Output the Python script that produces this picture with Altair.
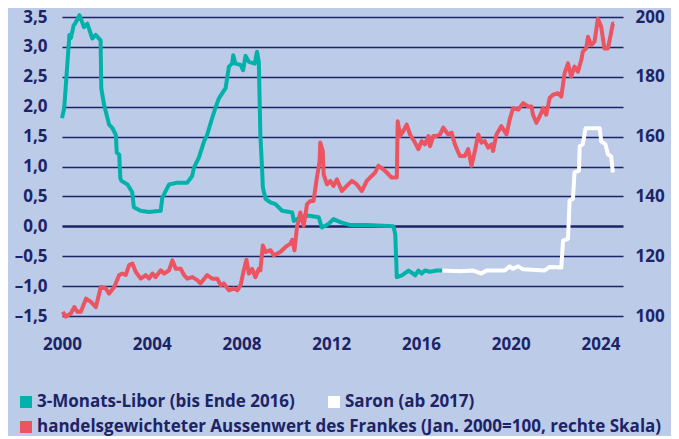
import altair as alt
import pandas as pd

# ---- data ----
libor_t = [2000.0, 2000.1, 2000.33, 2000.4, 2000.52, 2000.6, 2000.78, 2000.98, 2001.13, 2001.35,
           2001.5, 2001.72, 2001.75, 2001.87, 2002.1, 2002.25, 2002.4, 2002.44, 2002.55, 2002.6,
           2002.65, 2002.92, 2003.13, 2003.2, 2003.5, 2003.88, 2004.4, 2004.47, 2004.77, 2005.14,
           2005.58, 2005.8, 2005.88, 2006.1, 2006.33, 2006.47, 2006.69, 2006.84, 2006.99, 2007.29,
           2007.36, 2007.44, 2007.58, 2007.63, 2007.73, 2007.96, 2008.07, 2008.18, 2008.33, 2008.59,
           2008.69, 2008.77, 2008.84, 2008.92, 2008.95, 2009.07, 2009.29, 2009.51, 2009.81, 2010.26,
           2010.33, 2010.62, 2010.92, 2011.44, 2011.58, 2011.88, 2012.1, 2012.4, 2012.85, 2013.6,
           2014.77, 2014.85, 2014.92, 2015.15, 2015.44, 2015.6, 2015.74, 2015.88, 2016.03, 2016.18,
           2016.4, 2016.7, 2016.95]
libor_v = [1.81, 1.98, 3.20, 3.15, 3.36, 3.40, 3.53, 3.33, 3.39, 3.14,
           3.20, 3.11, 2.31, 2.04, 1.70, 1.64, 1.53, 1.23, 1.20, 0.80,
           0.76, 0.70, 0.57, 0.32, 0.26, 0.24, 0.26, 0.48, 0.70, 0.73,
           0.73, 0.84, 0.98, 1.15, 1.42, 1.53, 1.81, 1.98, 2.14, 2.31,
           2.48, 2.67, 2.72, 2.86, 2.72, 2.70, 2.61, 2.85, 2.75, 2.72,
           2.92, 2.75, 1.53, 0.93, 0.65, 0.46, 0.40, 0.37, 0.26, 0.23,
           0.09, 0.15, 0.18, 0.15, -0.02, 0.04, 0.12, 0.07, 0.02, 0.02,
           0.0, -0.13, -0.85, -0.82, -0.74, -0.78, -0.82, -0.74, -0.79, -0.74,
           -0.76, -0.74, -0.74]

saron_t = [2016.95, 2017.73, 2018.33, 2018.69, 2018.92, 2019.73, 2019.95, 2020.1, 2020.33, 2020.55,
           2021.5, 2021.73, 2022.25, 2022.33, 2022.55, 2022.62, 2022.77, 2022.84, 2023.04, 2023.07,
           2023.21, 2023.33, 2023.96, 2024.03, 2024.22, 2024.33, 2024.47, 2024.55]
saron_v = [-0.74, -0.75, -0.74, -0.79, -0.74, -0.74, -0.67, -0.71, -0.67, -0.72,
           -0.74, -0.68, -0.69, -0.24, -0.21, 0.43, 0.46, 0.90, 0.93, 1.34,
           1.37, 1.64, 1.64, 1.42, 1.37, 1.20, 1.17, 0.90]

chf_t = [2000.03, 2000.17, 2000.4, 2000.55, 2000.69, 2000.84, 2001.07, 2001.29, 2001.51, 2001.73,
         2001.95, 2002.1, 2002.33, 2002.55, 2002.69, 2002.84, 2002.99, 2003.14, 2003.29, 2003.51,
         2003.73, 2003.88, 2004.03, 2004.17, 2004.4, 2004.55, 2004.77, 2004.92, 2005.07, 2005.29,
         2005.44, 2005.58, 2005.81, 2006.03, 2006.17, 2006.47, 2006.69, 2006.92, 2007.07, 2007.21,
         2007.44, 2007.66, 2007.81, 2007.96, 2008.1, 2008.22, 2008.33, 2008.47, 2008.62, 2008.77,
         2008.84, 2008.95, 2009.07, 2009.29, 2009.44, 2009.73, 2009.95, 2010.18, 2010.26, 2010.36,
         2010.47, 2010.62, 2010.77, 2010.92, 2011.07, 2011.21, 2011.36, 2011.48, 2011.51, 2011.62,
         2011.66, 2011.81, 2011.96, 2012.1, 2012.25, 2012.47, 2012.69, 2012.92, 2013.14, 2013.36,
         2013.58, 2013.81, 2013.96, 2014.1, 2014.33, 2014.55, 2014.69, 2014.92, 2014.96, 2015.07,
         2015.21, 2015.36, 2015.51, 2015.73, 2015.88, 2016.03, 2016.17, 2016.33, 2016.4, 2016.55,
         2016.69, 2016.84, 2016.99, 2017.21, 2017.36, 2017.51, 2017.73, 2017.95, 2018.1, 2018.25,
         2018.4, 2018.55, 2018.69, 2018.84, 2018.99, 2019.14, 2019.21, 2019.36, 2019.58, 2019.81,
         2019.95, 2020.1, 2020.33, 2020.55, 2020.77, 2020.92, 2020.99, 2021.14, 2021.29, 2021.44,
         2021.58, 2021.73, 2021.88, 2022.1, 2022.25, 2022.4, 2022.55, 2022.69, 2022.84, 2022.99,
         2023.14, 2023.21, 2023.36, 2023.44, 2023.58, 2023.73, 2023.88, 2024.03, 2024.17, 2024.33,
         2024.55, 2024.6]
chf_v = [101.4, 99.8, 100.9, 103.0, 101.4, 101.4, 105.8, 104.7, 103.0, 109.7,
         109.2, 107.5, 109.7, 113.7, 114.2, 113.7, 117.0, 117.5, 114.7, 112.5,
         113.7, 112.5, 114.2, 113.0, 115.3, 114.2, 115.3, 118.6, 115.8, 115.8,
         113.7, 112.5, 113.0, 112.0, 110.9, 113.7, 112.5, 112.5, 110.3, 110.9,
         108.6, 109.2, 108.6, 110.3, 115.3, 118.8, 114.2, 115.8, 113.0, 115.8,
         115.3, 123.6, 121.4, 122.0, 120.3, 121.4, 123.0, 124.2, 125.5, 122.0,
         129.6, 134.6, 130.2, 137.4, 138.5, 138.5, 146.3, 151.7, 158.0, 155.2,
         147.4, 144.0, 145.2, 143.5, 145.7, 141.8, 143.5, 145.2, 144.0, 141.8,
         145.2, 146.9, 148.0, 150.2, 149.0, 147.4, 146.3, 146.3, 165.1, 160.2,
         161.8, 164.0, 160.7, 158.0, 155.8, 158.5, 157.4, 160.2, 156.8, 160.2,
         160.2, 160.7, 163.0, 160.7, 161.3, 157.4, 153.5, 153.5, 155.8, 150.2,
         155.2, 160.7, 158.0, 158.5, 156.3, 157.4, 155.2, 160.7, 163.5, 160.7,
         165.7, 169.5, 169.0, 171.2, 170.1, 170.1, 167.3, 164.6, 166.8, 169.5,
         167.3, 172.9, 174.0, 174.5, 173.4, 181.2, 184.5, 180.1, 183.4, 181.7,
         185.6, 188.4, 189.5, 193.4, 190.6, 191.7, 199.4, 196.7, 189.5, 189.5,
         197.8, 197.8]

x_ticks = [2000, 2004, 2008, 2012, 2016, 2020, 2024]
left_ticks = [-1.5, -1.0, -0.5, 0.0, 0.5, 1.0, 1.5, 2.0, 2.5, 3.0, 3.5]
right_ticks = [100, 120, 140, 160, 180, 200]

legend_labels = ["3-Monats-Libor (bis Ende 2016)", "Saron (ab 2017)",
                 "handelsgewichteter Aussenwert des Frankes (Jan. 2000=100, rechte Skala)"]

# ---- styling ----
BG = "#BCCBE8"
NAVY = "#1D2466"
TEAL = "#00B2A9"
RED = "#EB5460"
WHITE = "#FFFFFF"
FONT = "Open Sans"

libor_df = pd.DataFrame({"t": libor_t, "v": libor_v})
saron_df = pd.DataFrame({"t": saron_t, "v": saron_v})
chf_df = pd.DataFrame({"t": chf_t, "v": chf_v})

x_enc = alt.X("t:Q",
              scale=alt.Scale(domain=[2000, 2025], nice=False, zero=False),
              axis=alt.Axis(values=x_ticks, format="d", title=None, grid=False,
                            labelPadding=20, labelFlush=False))

left_scale = alt.Scale(domain=[-1.5, 3.5], nice=False, zero=False)
left_axis = alt.Axis(values=left_ticks, title=None, grid=True, orient="left",
                     labelExpr="replace(replace(format(datum.value, '.1f'), '.', ','), '\u2212', '\u2013')",
                     labelPadding=15, gridColor=NAVY,
                     gridWidth=alt.ExprRef("datum.value == 0 ? 2.6 : 1.3"))

teal = alt.Chart(libor_df).mark_line(color=TEAL, strokeWidth=4, strokeJoin="round").encode(
    x=x_enc, y=alt.Y("v:Q", scale=left_scale, axis=left_axis))
white = alt.Chart(saron_df).mark_line(color=WHITE, strokeWidth=4, strokeJoin="round").encode(
    x=x_enc, y=alt.Y("v:Q", scale=left_scale, axis=left_axis))

red = alt.Chart(chf_df).mark_line(color=RED, strokeWidth=4, strokeJoin="round").encode(
    x=x_enc,
    y=alt.Y("v:Q", scale=alt.Scale(domain=[100, 200], nice=False, zero=False),
            axis=alt.Axis(values=right_ticks, title=None, grid=False, orient="right",
                          labelPadding=12)))


def legend_item(label, color, px, py):
    d = pd.DataFrame({"label": [label]})
    sq = alt.Chart(d).mark_square(size=144, color=color, opacity=1, filled=True).encode(
        x=alt.value(px), y=alt.value(py))
    tx = alt.Chart(d).mark_text(align="left", baseline="middle", font=FONT, fontSize=17,
                                fontWeight="bold", color=NAVY).encode(
        x=alt.value(px + 11), y=alt.value(py), text="label:N")
    return sq + tx


leg = (legend_item(legend_labels[0], TEAL, -36, 385)
       + legend_item(legend_labels[1], WHITE, 272, 385)
       + legend_item(legend_labels[2], RED, -36, 410))

chart = alt.layer(alt.layer(teal, white), red, leg).resolve_scale(y="independent").properties(
    width=561, height=299,
    autosize=alt.AutoSizeParams(type="none"),
    padding={"left": 54, "top": 9, "right": 48, "bottom": 120},
    background=BG,
    usermeta={"embedOptions": {"defaultStyle": "body{background:#BCCBE8;overflow:hidden;} svg{overflow:visible;}"}},
).configure_view(stroke=None).configure_axis(
    domain=False, ticks=False, tickSize=0,
    labelFont=FONT, labelFontWeight="bold", labelFontSize=17, labelColor=NAVY,
)

chart.save("out.html", embed_options={"renderer": "svg", "actions": False})
